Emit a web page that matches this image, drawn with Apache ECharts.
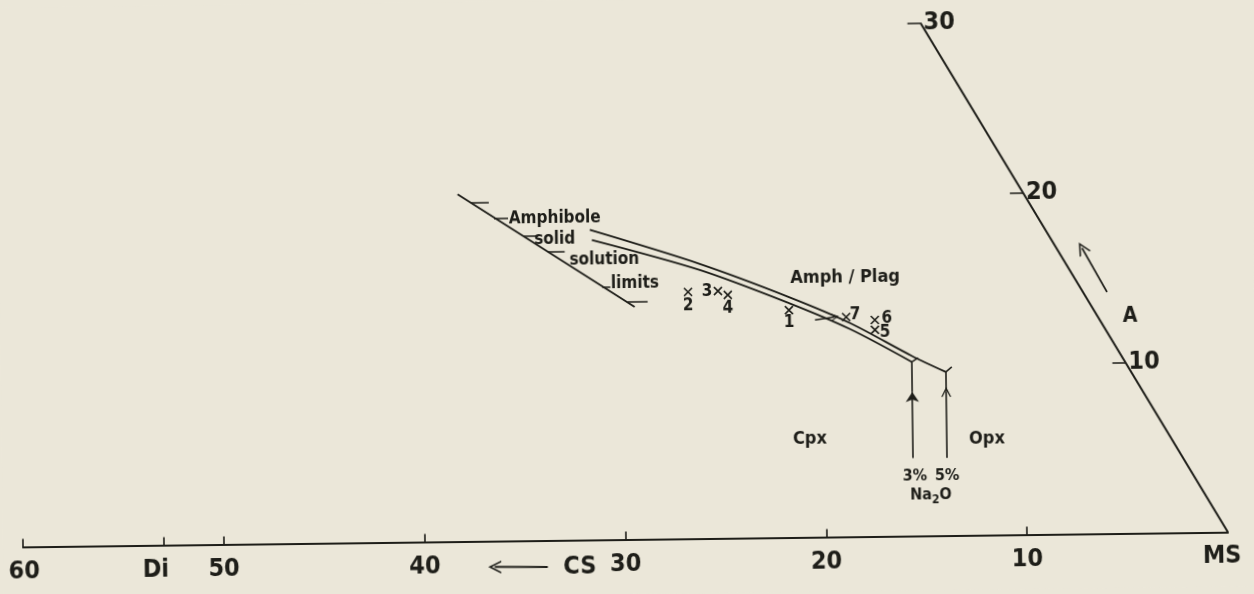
<!DOCTYPE html>
<html><head><meta charset="utf-8">
<script src="https://cdn.jsdelivr.net/npm/echarts@6/dist/echarts.min.js"></script>
<style>
html,body{margin:0;padding:0;background:#ebe7d9;overflow:hidden;}
#chart{width:1254px;height:594px;transform:rotate(-0.7deg);transform-origin:627px 297px;}
</style></head><body><div id="chart"></div>
<script>
// ---- data, ternary coordinates [CS, A] (MS = 100 - CS - A) ----
const csTicks = [60, 53, 50, 40, 30, 20, 10];
const csLabelValues = [60, 53, 50, 40, 30, 20, 10, 0];
const csLabelNames = ['60', 'Di', '50', '40', '30', '20', '10', 'MS'];
const aTicks = [10, 20, 30];
const msAEdge = [[0, 0], [0, 30]];
const limitLine = [[28.0, 20.3], [22.6, 13.6]];
const limitTicks = [
  [[27.6, 19.8], [26.7, 19.8]],
  [[26.9, 18.9], [26.2, 18.9]],
  [[26.0, 17.8], [25.25, 17.8]],
  [[25.25, 16.9], [24.4, 16.9]],
  [[23.6, 14.8], [23.2, 14.8]],
  [[22.8, 13.9], [21.8, 13.9]]
];
const limitWords = ['Amphibole', 'solid', 'solution', 'limits'];
const limitWordPos = [[23.9, 18.85], [24.55, 17.57], [22.7, 16.36], [21.9, 14.94]];
const curve3 = [[22.72, 17.54], [18.28, 15.71], [14.86, 13.71], [12.62, 12.15], [10.54, 10.18]];
const curve5 = [[22.52, 18.13], [18.10, 16.06], [14.68, 14.06], [12.44, 12.50], [10.36, 10.53], [9.16, 9.57]];
const vert3 = [[13.35, 4.56], [11.42, 8.42], [10.54, 10.18]];
const vert5 = [[11.67, 4.54], [9.74, 8.40], [9.16, 9.57]];
const serif3 = [[10.54, 10.18], [10.12, 10.41]];
const serif5 = [[9.16, 9.57], [8.72, 9.86]];
const trendArrow = [[14.08, 12.70], [13.0, 12.87]];
const aArrow = [[-1.19, 14.13], [-1.27, 16.72]];
const csArrow = [[34.66, -1.55], [37.28, -1.51]];
const sampleNames = ['1', '2', '3', '4', '5', '6', '7'];
const sampleCS = [15.07, 19.52, 18.01, 17.64, 11.41, 11.12, 12.45];
const sampleA  = [13.30, 14.43, 14.47, 14.23, 12.08, 12.66, 12.85];
const regionLabels = ['Amph / Plag', 'Cpx', 'Opx'];
const regionPos = [[11.34, 15.13], [17.88, 5.75], [9.13, 5.62]];
const naLabels = ['3%', '5%'];
const naPos = [[13.8, 3.51], [12.2, 3.49]];
const na2oPos = [13.57, 2.39];
const aNamePos = [-1.62, 12.71];
const csNamePos = [33.07, -1.57];

// ---- style ----
const FF = "'DejaVu Sans Condensed','DejaVu Sans',sans-serif";
const ink = '#1e1e19';
const csLabelOffset = [[1, 25], [-8, 25], [0, 25], [0, 25], [0, 25], [0, 25], [0, 25], [-6, 24]];
const sampleLabelOffset = [[0, 13], [0, 14], [-11, 1], [0, 13], [10, 3], [12, -1], [9, -2]];
const chevron = 'path://M0,0L6,10L4.4,10L0,2.8L-4.4,10L-6,10Z';
const cross = 'path://M0,0L10,10M10,0L0,10';

const toXY = p => [p[0] + p[1] / 2, p[1]];
const seg = (a, b) => ({coords: [toXY(a), toXY(b)]});
function lineSeries(pts, width, smooth) {
  return {type: 'line', data: pts.map(toXY), symbol: 'none', smooth: smooth || false, clip: false,
    silent: true, lineStyle: {color: ink, width: width}};
}
function linesSeries(segs, width, symbol, size) {
  return {type: 'lines', coordinateSystem: 'cartesian2d', data: segs.map(s => seg(s[0], s[1])),
    symbol: symbol ? ['none', symbol] : 'none', symbolSize: size || 8, silent: true,
    lineStyle: {color: ink, width: width, opacity: 1}, itemStyle: {color: ink}};
}
function textItem(pos, text, size, extra) {
  return {value: toXY(pos), label: Object.assign({show: true, position: 'inside', formatter: text,
    fontSize: size, fontWeight: 'bold', color: ink, fontFamily: FF}, extra || {})};
}
function textSeries(data) {
  return {type: 'scatter', symbolSize: 0, silent: true, clip: false,
    itemStyle: {opacity: 1}, data: data};
}

const textData = [];
csLabelValues.forEach((v, i) => textData.push(textItem([v, 0], csLabelNames[i], 25, {offset: csLabelOffset[i]})));
limitWords.forEach((w, i) => textData.push(textItem(limitWordPos[i], w, 17)));
regionLabels.forEach((w, i) => textData.push(textItem(regionPos[i], w, 18)));
naLabels.forEach((w, i) => textData.push(textItem(naPos[i], w, 16)));
textData.push(textItem(na2oPos, '{n|Na}{s|2}{n|O}', 16, {rich: {
  n: {fontSize: 16, fontWeight: 'bold', color: ink, fontFamily: FF},
  s: {fontSize: 12, fontWeight: 'bold', color: ink, fontFamily: FF, padding: [10, 0, 0, 0]}}}));
textData.push(textItem(aNamePos, 'A', 21));
textData.push(textItem(csNamePos, 'CS', 25));

const chart = echarts.init(document.getElementById('chart'), null, {renderer: 'canvas'});
chart.setOption({
  animation: false,
  backgroundColor: '#ebe7d9',
  textStyle: {fontFamily: FF},
  grid: {left: 20, right: 29, top: 9.4, bottom: 3.2, containLabel: false, outerBoundsMode: 'none'},
  xAxis: {
    type: 'value', min: 0, max: 60, inverse: true,
    axisLine: {show: true, onZero: true, lineStyle: {color: ink, width: 2}},
    axisTick: {show: true, inside: true, length: 8, customValues: csTicks, lineStyle: {color: ink, width: 1.6}},
    axisLabel: {show: false},
    splitLine: {show: false}
  },
  yAxis: {
    type: 'value', min: -3, max: 31,
    axisLine: {show: false}, axisTick: {show: false}, axisLabel: {show: false}, splitLine: {show: false}
  },
  series: [
    lineSeries(msAEdge, 2),
    linesSeries(aTicks.map(a => [[0, a], [0.65, a]]), 1.6),
    textSeries(aTicks.map(a => textItem([0, a], String(a), 25, {position: 'right', distance: 3}))),
    lineSeries(limitLine, 1.8),
    linesSeries(limitTicks, 1.6),
    lineSeries(curve3, 1.8, 0.3),
    lineSeries(curve5, 1.8, 0.3),
    linesSeries([[vert3[0], vert3[1]]], 1.6, 'arrow', [7, 10]),
    linesSeries([[vert3[1], vert3[2]]], 1.6),
    linesSeries([[vert5[0], vert5[1]]], 1.6, chevron, [8, 10]),
    linesSeries([[vert5[1], vert5[2]]], 1.6),
    linesSeries([serif3, serif5], 1.5),
    linesSeries([trendArrow], 1.5, chevron, [7, 8]),
    linesSeries([aArrow], 1.8, chevron, [11, 13]),
    linesSeries([csArrow], 2, chevron, [13, 13]),
    {type: 'scatter', symbol: cross, symbolSize: 8, silent: true,
      itemStyle: {color: 'none', borderColor: ink, borderWidth: 1.6, opacity: 1},
      data: sampleNames.map((n, i) => ({value: toXY([sampleCS[i], sampleA[i]]),
        label: {show: true, position: 'inside', formatter: n, offset: sampleLabelOffset[i],
          fontSize: 17, fontWeight: 'bold', color: ink, fontFamily: FF}}))},
    textSeries(textData)
  ]
});
</script></body></html>
